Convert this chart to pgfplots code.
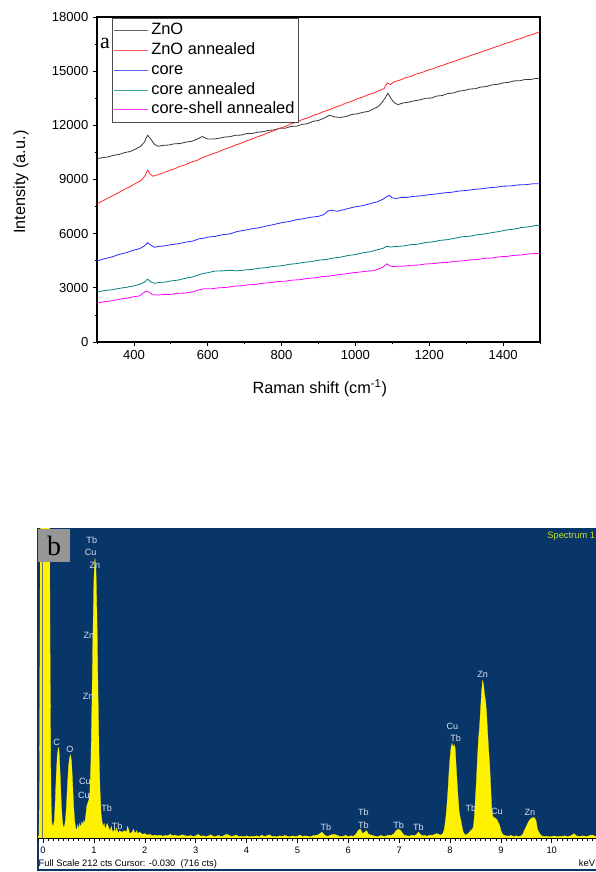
\documentclass[border=0pt]{standalone}
\usepackage{fontspec}
\setmainfont{Liberation Sans}
\newfontfamily\timesfont{Liberation Serif}
\usepackage{pgfplots}
\pgfplotsset{compat=1.18}
\definecolor{bgblue}{RGB}{8,54,104}
\definecolor{elab}{RGB}{218,224,240}
\definecolor{specyel}{RGB}{200,222,40}
\definecolor{cznO}{RGB}{55,55,55}
\definecolor{cred}{RGB}{255,40,40}
\definecolor{cblue}{RGB}{40,40,255}
\definecolor{cteal}{RGB}{0,128,128}
\definecolor{cmag}{RGB}{255,0,255}
\definecolor{bgray}{RGB}{150,150,150}
\begin{document}
\begin{tikzpicture}
\path[use as bounding box] (0,0) rectangle (447pt,654pt);
\clip (0,0) rectangle (447pt,654pt);
% ---------------- panel a ----------------
\begin{axis}[
  at={(72.75pt,397.5pt)}, anchor=south west,
  width=332.25pt, height=243.75pt, scale only axis,
  xmin=300, xmax=1500, ymin=0, ymax=18000,
  xtick={400,600,...,1400}, minor xtick={300,500,...,1500},
  ytick={0,3000,...,18000}, minor ytick={1500,4500,...,16500},
  tick align=outside, tick pos=left,
  major tick length=3pt, minor tick length=1.8pt,
  every tick/.style={black, line width=0.6pt},
  axis line style={line width=0.8pt},
  /pgf/number format/assume math mode=true,
  /pgf/number format/1000 sep={},
  scaled ticks=false,
  tick label style={font=\fontsize{9.8}{11}\selectfont},
  xlabel={Raman shift (cm\textsuperscript{-1})},
  ylabel={Intensity (a.u.)},
  every axis x label/.style={at={(axis description cs:0.503,-0.1415)}, anchor=center, font=\fontsize{12.2}{14}\selectfont},
  every axis y label/.style={at={(axis description cs:-0.1716,0.492)}, rotate=90, anchor=center, font=\fontsize{12.2}{14}\selectfont},
  legend style={at={(0.034,0.997)}, anchor=north west, draw=black!70, line width=0.5pt,
    inner xsep=1pt, inner ysep=2pt,
    nodes={inner xsep=2pt, inner ysep=1.6pt, text height=8.9pt, text depth=2.7pt},
    row sep=0pt, font=\fontsize{12.3}{14.8}\selectfont, cells={anchor=west}},
  legend image code/.code={\draw[#1, line width=0.7pt, opacity=0.75] (0pt,0pt) -- (25.5pt,0pt);},
]
\addplot[cznO, line width=0.6pt] coordinates {
(300,10150)(315,10210)(330,10250)(345,10340)(360,10390)(375,10490)(390,10550)(405,10690)(418,10840)(428,11060)(437,11450)(445,11260)(455,10960)(465,10840)(480,10890)(495,10910)(510,10980)(525,10990)(540,11070)(555,11110)(570,11220)(585,11380)(600,11240)(615,11240)(630,11280)(645,11350)(660,11370)(675,11450)(690,11460)(705,11540)(720,11550)(735,11620)(750,11650)(765,11720)(780,11750)(795,11840)(810,11840)(825,11940)(840,11950)(855,12050)(870,12090)(885,12220)(900,12270)(915,12400)(930,12560)(945,12460)(960,12440)(975,12490)(990,12600)(1005,12640)(1020,12720)(1035,12770)(1050,12920)(1062,13040)(1072,13260)(1080,13500)(1088,13780)(1096,13490)(1105,13250)(1115,13150)(1130,13240)(1145,13290)(1160,13360)(1175,13410)(1190,13500)(1205,13510)(1220,13620)(1235,13650)(1250,13760)(1265,13790)(1280,13890)(1295,13930)(1310,14010)(1325,14030)(1340,14120)(1355,14150)(1370,14240)(1385,14270)(1400,14350)(1415,14380)(1430,14460)(1445,14470)(1460,14540)(1475,14540)(1490,14600)(1500,14570)};
\addlegendentry{ZnO}
\addplot[cred, line width=0.6pt] coordinates {
(300,7650)(315,7810)(330,7970)(345,8130)(360,8290)(375,8460)(390,8610)(405,8790)(420,8950)(430,9210)(437,9520)(444,9300)(452,9180)(465,9270)(480,9370)(495,9490)(510,9590)(525,9730)(540,9820)(555,9960)(570,10050)(585,10210)(600,10320)(615,10440)(630,10540)(645,10680)(660,10770)(675,10910)(690,11010)(705,11140)(720,11240)(735,11370)(750,11470)(765,11610)(780,11700)(795,11840)(810,11940)(825,12080)(840,12170)(855,12310)(870,12400)(885,12540)(900,12640)(915,12770)(930,12870)(945,13000)(960,13100)(975,13240)(990,13330)(1005,13470)(1020,13570)(1035,13700)(1050,13790)(1065,13930)(1078,14040)(1086,14350)(1095,14260)(1105,14410)(1120,14500)(1135,14630)(1150,14710)(1165,14840)(1180,14920)(1195,15050)(1210,15130)(1225,15260)(1240,15350)(1255,15470)(1270,15560)(1285,15680)(1300,15770)(1315,15890)(1330,15980)(1345,16100)(1360,16190)(1375,16310)(1390,16400)(1405,16530)(1420,16610)(1435,16740)(1450,16820)(1465,16950)(1480,17030)(1500,17190)};
\addlegendentry{ZnO annealed}
\addplot[cblue, line width=0.6pt] coordinates {
(300,4480)(320,4610)(340,4710)(360,4850)(380,4950)(400,5090)(415,5170)(428,5310)(437,5500)(445,5380)(455,5250)(470,5300)(485,5330)(500,5390)(520,5440)(540,5530)(560,5590)(575,5710)(590,5750)(600,5810)(620,5850)(640,5940)(660,5990)(680,6120)(700,6190)(720,6270)(740,6330)(760,6430)(780,6510)(800,6610)(820,6670)(840,6770)(860,6830)(880,6910)(900,6960)(915,7060)(925,7250)(935,7300)(950,7240)(965,7310)(980,7390)(1000,7490)(1020,7550)(1040,7660)(1060,7770)(1075,7910)(1085,8050)(1092,8120)(1100,7980)(1110,7950)(1125,8010)(1140,8010)(1160,8070)(1180,8100)(1200,8160)(1220,8200)(1240,8260)(1260,8290)(1280,8360)(1300,8390)(1320,8450)(1340,8480)(1360,8540)(1380,8570)(1400,8630)(1420,8640)(1440,8700)(1460,8710)(1480,8760)(1500,8760)};
\addlegendentry{core}
\addplot[cteal, line width=0.6pt] coordinates {
(300,2760)(320,2850)(340,2890)(360,2970)(380,3030)(400,3110)(415,3190)(428,3310)(437,3480)(445,3340)(455,3250)(470,3300)(485,3320)(500,3380)(520,3430)(540,3530)(560,3610)(580,3750)(600,3840)(620,3930)(640,3940)(660,3970)(680,3940)(700,3990)(720,4020)(740,4090)(760,4120)(780,4190)(800,4220)(820,4300)(840,4340)(860,4410)(880,4450)(900,4530)(920,4570)(940,4650)(960,4700)(980,4790)(1000,4840)(1020,4940)(1040,5000)(1060,5110)(1075,5190)(1085,5300)(1095,5260)(1110,5290)(1130,5320)(1150,5390)(1170,5420)(1190,5510)(1210,5550)(1230,5630)(1250,5670)(1270,5750)(1290,5830)(1310,5860)(1330,5940)(1350,5980)(1370,6060)(1390,6120)(1410,6210)(1430,6250)(1450,6340)(1470,6380)(1490,6460)(1500,6450)};
\addlegendentry{core annealed}
\addplot[cmag, line width=0.6pt] coordinates {
(300,2150)(320,2230)(340,2280)(360,2370)(380,2420)(400,2510)(415,2550)(425,2710)(433,2820)(442,2760)(450,2620)(465,2600)(480,2630)(500,2640)(520,2700)(540,2710)(560,2780)(575,2880)(590,2950)(610,2950)(630,3000)(650,3020)(670,3090)(690,3110)(710,3170)(730,3190)(750,3260)(770,3280)(790,3350)(810,3370)(830,3430)(850,3450)(870,3520)(890,3550)(910,3620)(930,3650)(950,3720)(970,3760)(990,3830)(1010,3870)(1030,3920)(1050,3950)(1065,4060)(1075,4150)(1085,4330)(1093,4230)(1100,4170)(1115,4200)(1130,4200)(1150,4250)(1170,4260)(1190,4320)(1210,4340)(1230,4390)(1250,4410)(1270,4470)(1290,4490)(1310,4550)(1330,4570)(1350,4630)(1370,4650)(1390,4720)(1410,4740)(1430,4800)(1450,4820)(1470,4880)(1490,4900)(1500,4920)};
\addlegendentry{core-shell annealed}
\node[font=\timesfont\fontsize{16.5}{18}\selectfont, anchor=center, inner sep=0pt] at (axis description cs:0.018,0.92) {a};
\end{axis}
% ---------------- panel b ----------------
\draw[bgblue, line width=1pt] (28.5pt,1.5pt) rectangle (448pt,257.25pt);
\begin{axis}[
  at={(28.5pt,25.5pt)}, anchor=south west,
  width=418.5pt, height=231.75pt, scale only axis,
  xmin=-0.10, xmax=10.87, ymin=0, ymax=212,
  axis background/.style={fill=bgblue},
  axis x line*=bottom, axis y line=none, ytick=\empty,
  x axis line style={black, line width=0.4pt, -},
  xtick={0,1,...,10}, minor xtick={-0.1,0,...,10.8},
  tick align=outside, major tick length=3.5pt, minor tick length=2pt,
  every tick/.style={black, line width=0.4pt},
  /pgf/number format/assume math mode=true,
  xticklabel style={font=\fontsize{7}{8}\selectfont},
  clip mode=individual,
]
\addplot[fill=yellow, draw=yellow, line width=0.2pt] coordinates {
(-0.10,0)(-0.08,2)(-0.07,40)(-0.06,150)(-0.05,260)(0.12,260)(0.13,200)(0.14,110)(0.15,50)(0.16,22)(0.17,12)(0.18,9)(0.20,8)(0.22,12)(0.23,18)(0.24,26)(0.26,44)(0.28,57)(0.30,62)(0.31,61)(0.32,56)(0.34,40)(0.36,22)(0.38,11)(0.40,7)(0.42,8)(0.44,12)(0.46,22)(0.48,37)(0.50,49)(0.52,55)(0.54,57)(0.56,52)(0.58,38)(0.60,22)(0.62,12)(0.64,7)(0.66,5)(0.68,9)(0.70,6)(0.72,10)(0.74,7)(0.76,11)(0.78,9)(0.80,12)(0.82,10)(0.84,16)(0.86,22)(0.88,24)(0.90,26)(0.92,32)(0.94,52)(0.96,92)(0.98,140)(1.00,178)(1.02,192)(1.04,184)(1.06,150)(1.08,100)(1.10,58)(1.12,32)(1.14,17)(1.16,11)(1.18,8)(1.20,10)(1.22,6)(1.24,8)(1.26,10)(1.28,8)(1.30,6)(1.32,5)(1.34,8)(1.36,5)(1.38,4)(1.40,6)(1.42,4)(1.44,7)(1.46,5)(1.48,3)(1.50,5)(1.55,4)(1.60,5)(1.64,4)(1.66,8)(1.68,6)(1.70,3)(1.75,4)(1.78,6)(1.80,3)(1.84,5)(1.86,3)(1.90,4)(1.95,2.5)(2.00,3)(2.05,2)(2.10,2.5)(2.15,1.5)(2.20,2)(2.25,1.5)(2.30,2)(2.35,1.2)(2.40,1.8)(2.45,1.5)(2.50,2.5)(2.55,1.5)(2.60,2)(2.65,1.2)(2.70,1.8)(2.75,2.2)(2.80,1.5)(2.85,1.2)(2.90,1.8)(2.95,1.0)(3.00,1.5)(3.05,2.5)(3.10,1.2)(3.15,1.5)(3.20,1.0)(3.25,1.5)(3.30,2.2)(3.35,1.0)(3.40,1.2)(3.45,1.8)(3.50,1.0)(3.55,1.5)(3.60,2.5)(3.65,2.0)(3.70,1.0)(3.75,1.5)(3.80,2.0)(3.85,1.0)(3.90,1.2)(3.95,0.8)(4.00,1.5)(4.05,0.8)(4.10,1.2)(4.15,1.0)(4.20,1.5)(4.25,0.8)(4.30,2.0)(4.35,1.0)(4.40,1.5)(4.45,2.2)(4.50,1.0)(4.55,1.2)(4.60,0.8)(4.65,1.5)(4.70,1.0)(4.75,1.8)(4.80,1.2)(4.85,0.8)(4.90,1.5)(4.95,1.0)(5.00,1.2)(5.05,2.0)(5.10,1.0)(5.15,1.5)(5.20,1.2)(5.25,0.8)(5.30,1.5)(5.35,1.8)(5.40,2.0)(5.45,3.2)(5.48,4.0)(5.52,2.5)(5.55,1.5)(5.60,1.2)(5.65,2.0)(5.70,2.5)(5.75,2.2)(5.80,1.5)(5.85,1.0)(5.90,1.2)(5.95,1.8)(6.00,1.0)(6.05,1.5)(6.10,1.2)(6.15,2.5)(6.20,5.5)(6.24,6.0)(6.28,3.0)(6.32,4.0)(6.36,5.0)(6.40,2.5)(6.45,2.0)(6.50,1.5)(6.55,1.0)(6.60,1.2)(6.65,1.8)(6.70,1.0)(6.75,1.5)(6.80,2.0)(6.85,1.8)(6.90,3.0)(6.94,5.0)(6.98,6.0)(7.02,5.5)(7.06,3.5)(7.10,2.0)(7.15,1.5)(7.20,1.2)(7.25,2.0)(7.30,1.5)(7.34,2.5)(7.38,4.0)(7.42,2.5)(7.46,1.5)(7.50,1.8)(7.55,1.2)(7.60,2.0)(7.65,1.8)(7.70,2.5)(7.74,3.0)(7.78,2.5)(7.82,2.0)(7.86,3)(7.88,5)(7.90,9)(7.92,15)(7.94,23)(7.96,33)(7.98,45)(8.00,55)(8.02,62)(8.04,65)(8.06,62)(8.08,64)(8.10,62)(8.12,50)(8.14,38)(8.16,27)(8.18,18)(8.20,14)(8.22,11)(8.24,7)(8.26,4)(8.28,3)(8.30,2)(8.34,2.5)(8.38,4)(8.42,5.5)(8.44,6)(8.46,8)(8.48,15)(8.50,28)(8.52,40)(8.54,55)(8.56,68)(8.58,76)(8.60,88)(8.62,100)(8.64,108)(8.66,105)(8.68,98)(8.70,94)(8.72,85)(8.74,72)(8.76,60)(8.78,50)(8.80,35)(8.82,20)(8.84,15)(8.86,14)(8.88,14)(8.90,13)(8.92,13)(8.94,11)(8.96,10)(8.98,8)(9.00,5)(9.02,3.5)(9.05,2)(9.10,1.5)(9.15,1.2)(9.20,1.8)(9.25,1.0)(9.30,1.5)(9.35,1.0)(9.40,1.5)(9.43,2.5)(9.46,5)(9.50,8)(9.54,11)(9.58,13)(9.62,14)(9.66,14)(9.69,12)(9.72,6)(9.76,3)(9.80,1.5)(9.85,1.0)(9.90,1.2)(9.95,0.8)(10.00,1.0)(10.05,1.5)(10.10,0.8)(10.15,1.2)(10.20,1.0)(10.25,1.5)(10.30,1.0)(10.35,1.2)(10.40,2.0)(10.44,3.0)(10.48,1.5)(10.55,1.0)(10.60,1.5)(10.65,1.2)(10.70,1.0)(10.75,1.8)(10.80,2.0)(10.85,1.2)(10.87,1.0)} \closedcycle;
\draw[black!55, line width=0.5pt] (axis cs:-0.02,0) -- (axis cs:-0.02,212);
\tikzset{el/.style={font=\fontsize{6.8}{7}\selectfont, text=elab, inner sep=0pt, anchor=center}}
\node[el] at (axis cs:0.957,204) {Tb};
\node[el] at (axis cs:0.934,196) {Cu};
\node[el] at (axis cs:1.02,187) {Zn};
\node[el] at (axis cs:0.90,139) {Zn};
\node[el] at (axis cs:0.887,97) {Zn};
\node[el] at (axis cs:0.265,65.4) {C};
\node[el] at (axis cs:0.527,61) {O};
\node[el] at (axis cs:0.822,39) {Cu};
\node[el] at (axis cs:0.802,29.5) {Cu};
\node[el] at (axis cs:1.248,20.4) {Tb};
\node[el] at (axis cs:1.457,8.2) {Tb};
\node[el] at (axis cs:5.561,7.1) {Tb};
\node[el] at (axis cs:6.295,17.4) {Tb};
\node[el] at (axis cs:6.295,8.9) {Tb};
\node[el] at (axis cs:6.99,8.9) {Tb};
\node[el] at (axis cs:7.377,7.1) {Tb};
\node[el] at (axis cs:8.045,76.8) {Cu};
\node[el] at (axis cs:8.11,68.4) {Tb};
\node[el] at (axis cs:8.41,20.4) {Tb};
\node[el] at (axis cs:8.92,18) {Cu};
\node[el] at (axis cs:9.57,17.4) {Zn};
\node[el] at (axis cs:8.64,112) {Zn};
\end{axis}
\fill[bgray] (28.5pt,257.25pt) rectangle (52.5pt,232.5pt);
\node[font=\timesfont\fontsize{21}{22}\selectfont, inner sep=0pt, anchor=center] at (40.5pt,244.6pt) {b};
\node[font=\fontsize{7}{8}\selectfont, text=specyel, inner sep=0pt, anchor=east] at (446.5pt,251.5pt) {Spectrum 1};
\node[font=\fontsize{7}{8}\selectfont, inner sep=0pt, anchor=east] at (446.5pt,6.75pt) {keV};
\node[font=\fontsize{7}{8}\selectfont, inner sep=0pt, anchor=west] at (28.8pt,6pt) {Full Scale 212 cts Cursor: -0.030\ \ (716 cts)};
\end{tikzpicture}
\end{document}
